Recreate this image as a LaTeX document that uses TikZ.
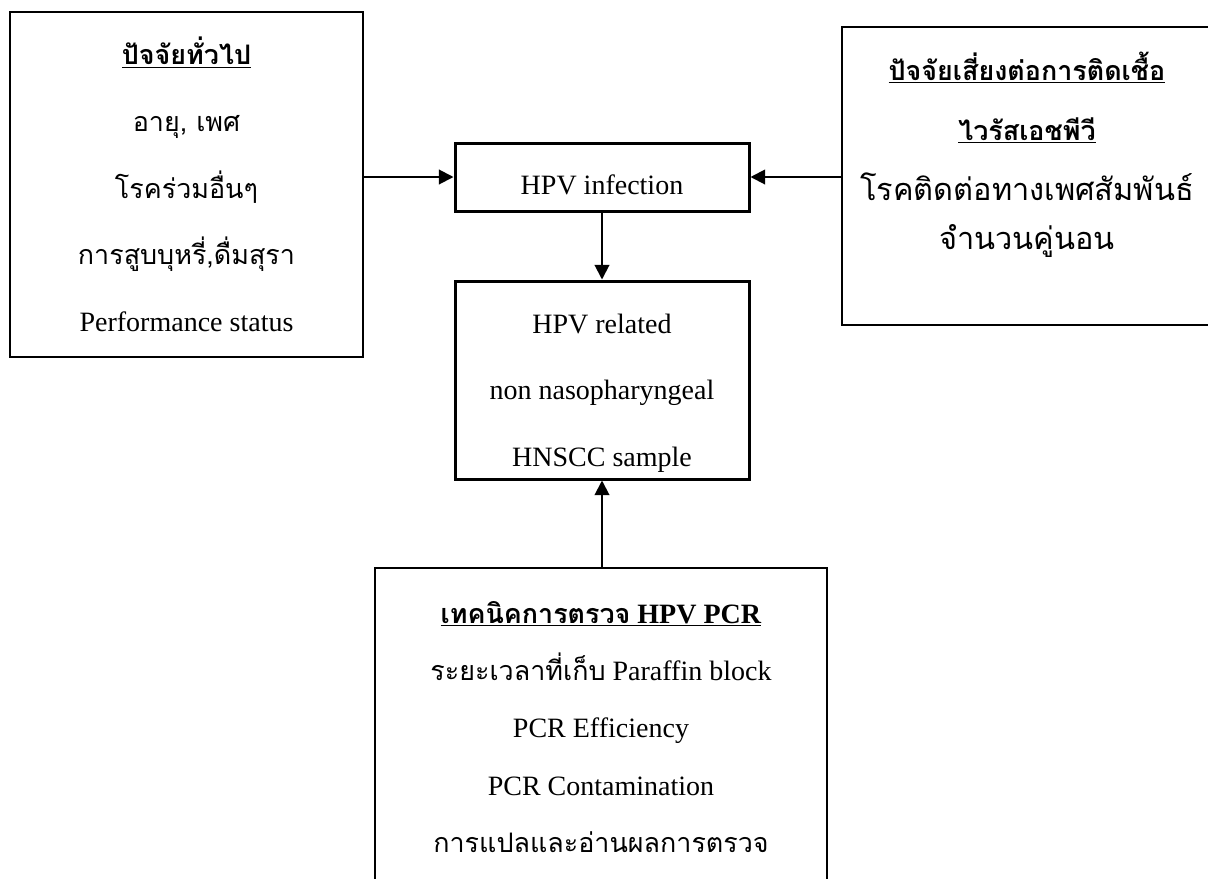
\documentclass[tikz,border=0pt]{standalone}
\usepackage{fontspec}
\setmainfont{Liberation Serif}
\newfontfamily\thaifont[Script=Thai,Scale=0.96]{Loma}
\usetikzlibrary{arrows.meta}

\tikzset{
  thinbox/.style={draw, line width=1pt, inner sep=0pt, align=center},
  boldbox/.style={draw, line width=2.25pt, inner sep=0pt, align=center},
  boxtext/.style={align=center, inner sep=0pt},
  arr/.style={-{Triangle[length=11pt,width=11pt]}, line width=1.5pt},
}

\begin{document}
\begin{tikzpicture}[x=0.75pt,y=-0.75pt]
  \clip (0,0) rectangle (1208,879);

  \node[thinbox, minimum width=264.75pt, minimum height=258.75pt,
        font=\fontsize{21}{50}\selectfont] (general) at (186.5,184.5)
    {\underline{\thaifont\bfseries ปัจจัยทั่วไป}\\
     {\thaifont อายุ, เพศ}\\
     {\thaifont โรคร่วมอื่นๆ}\\
     {\thaifont การสูบบุหรี่,ดื่มสุรา}\\
     Performance status};

  \node[boldbox, minimum width=220.5pt, minimum height=51pt,
        text height=26pt, text depth=0pt,
        font=\fontsize{21}{25}\selectfont] (hpv) at (602,177) {HPV infection};

  \node[boldbox, minimum width=220.5pt, minimum height=148.5pt]
    (sample) at (602,380) {};
  \node[boxtext, font=\fontsize{21}{50}\selectfont] (sampletxt) at (602,393)
    {HPV related\\ non nasopharyngeal\\ HNSCC sample};

  \node[thinbox, line width=0.8pt, minimum width=277.5pt, minimum height=223.5pt]
    (risk) at (1027,176) {};
  \node[boxtext, font=\fontsize{21}{45}\selectfont] (risktxt) at (1027,155)
    {\underline{\thaifont\bfseries ปัจจัยเสี่ยงต่อการติดเชื้อ}\\
     \underline{\thaifont\bfseries ไวรัสเอชพีวี}\\
     {\thaifont\fontsize{24}{45}\selectfont โรคติดต่อทางเพศสัมพันธ์}\\[-8pt]
     {\thaifont\fontsize{24}{45}\selectfont จำนวนคู่นอน}};

  \node[thinbox, minimum width=339pt, minimum height=238.5pt,
        font=\fontsize{21}{43}\selectfont] (pcr) at (601,727)
    {\underline{{\thaifont\bfseries เทคนิคการตรวจ} \textbf{HPV PCR}}\\
     {\thaifont ระยะเวลาที่เก็บ} Paraffin block\\
     PCR Efficiency\\
     PCR Contamination\\
     {\thaifont การแปลและอ่านผลการตรวจ}};

  \draw[arr] (general.east |- hpv.west) -- (hpv.west);
  \draw[arr] (risk.west |- hpv.east) -- (hpv.east);
  \draw[arr] (hpv.south) -- (sample.north);
  \draw[arr] (sample.south |- pcr.north) -- (sample.south);
\end{tikzpicture}
\end{document}
